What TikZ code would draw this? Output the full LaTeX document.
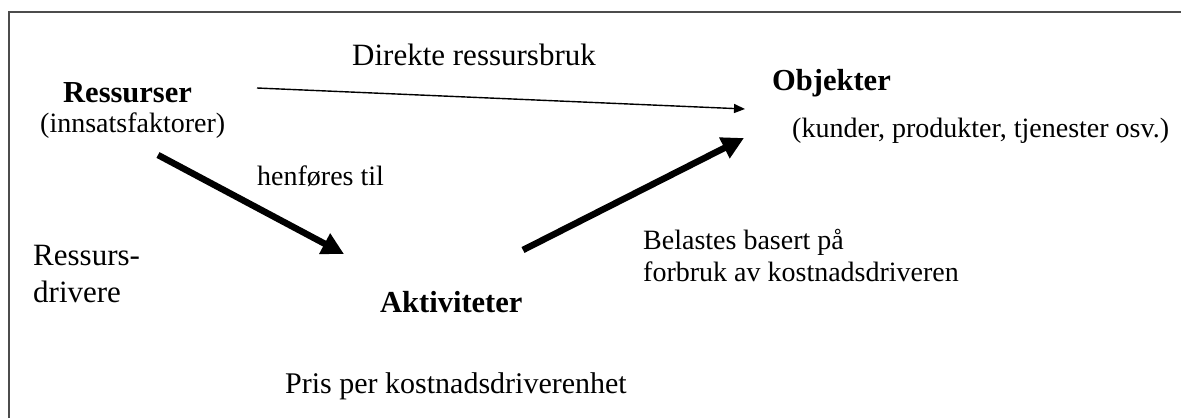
\documentclass[tikz,border=0pt]{standalone}
\usepackage{fontspec}
\setmainfont{Liberation Serif}
\usetikzlibrary{arrows.meta}
\begin{document}
\begin{tikzpicture}[x=1pt,y=-1pt,
  lbl/.style={inner sep=0pt,anchor=base west,font=\fontsize{28}{32}\selectfont},
  biglbl/.style={inner sep=0pt,anchor=base west,font=\fontsize{31}{37}\selectfont},
  boldlbl/.style={inner sep=0pt,anchor=base west,font=\fontsize{30.5}{36}\selectfont\bfseries},
  thinarrow/.style={line width=1.4pt,-{Triangle[length=11pt,width=9pt]}},
  thickarrow/.style={line width=6.5pt,-{Triangle[length=22pt,width=22pt]}}]
\useasboundingbox (0,0) rectangle (1181,418);
\fill[white] (0,0) rectangle (1181,418);
% frame (top and left edges)
\draw[black!70,line width=1.5pt] (9,418) -- (9,12) -- (1181,12);
% texts
\node[biglbl] (direkte) at (352,65) {Direkte ressursbruk};
\node[boldlbl] (ressurser) at (63,102) {Ressurser};
\node[lbl] (innsats) at (40,132) {(innsatsfaktorer)};
\node[boldlbl] (objekter) at (772,90) {Objekter};
\node[lbl] (kunder) at (792,137) {(kunder, produkter, tjenester osv.)};
\node[lbl] (henfores) at (257,185) {henføres til};
\node[biglbl] (rdriv1) at (33,265) {Ressurs-};
\node[biglbl] (rdriv2) at (33,302) {drivere};
\node[boldlbl] (aktiviteter) at (380,312) {Aktiviteter};
\node[lbl] (belastes1) at (643,249) {Belastes basert på};
\node[lbl] (belastes2) at (643,281) {forbruk av kostnadsdriveren};
\node[inner sep=0pt,anchor=base west,font=\fontsize{30}{36}\selectfont] (pris) at (285,393) {Pris per kostnadsdriverenhet};
% arrow end points
\coordinate (a1s) at (257,88);
\coordinate (a1e) at (745,109);
\coordinate (a2s) at (158,155);
\coordinate (a2e) at (344,254);
\coordinate (a3s) at (523,250);
\coordinate (a3e) at (744,138);
% arrows
\draw[thinarrow] (a1s) -- (a1e);
\draw[thickarrow] (a2s) -- (a2e);
\draw[thickarrow] (a3s) -- (a3e);
\end{tikzpicture}
\end{document}
